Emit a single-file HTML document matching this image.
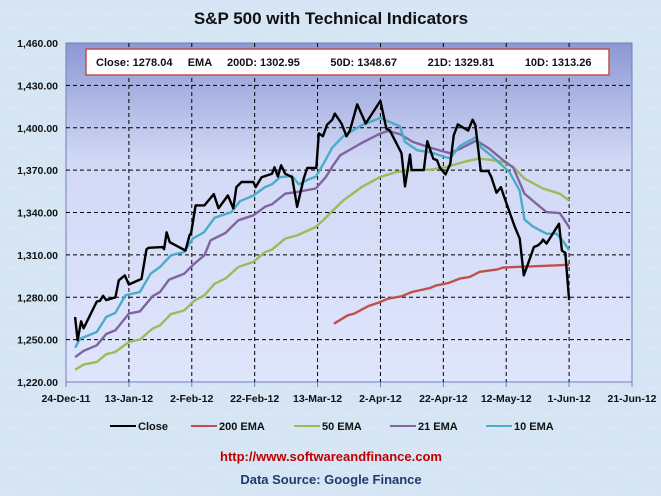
<!DOCTYPE html>
<html><head><meta charset="utf-8"><style>
body{margin:0;width:661px;height:491px;overflow:hidden;background:#d5e5f4;font-family:"Liberation Sans",sans-serif;}
svg text{font-family:"Liberation Sans",sans-serif;font-weight:bold;}
</style></head><body>
<svg id="chart" width="661" height="491" xmlns="http://www.w3.org/2000/svg">
<defs>
<linearGradient id="bg" x1="0" y1="0" x2="0" y2="1">
<stop offset="0" stop-color="#8c98d4"/><stop offset="0.35" stop-color="#d2d9f6"/><stop offset="1" stop-color="#dfe5fb"/>
</linearGradient>
<pattern id="marble" width="40" height="40" patternUnits="userSpaceOnUse">
<rect width="40" height="40" fill="#d5e5f4"/><path d="M0 10 Q10 5 20 12 T40 8 M5 30 Q15 25 25 32 T40 28" stroke="#dbe9f6" stroke-width="1.5" fill="none"/>
</pattern>
</defs>
<rect width="661" height="491" fill="url(#marble)"/>
<text x="331" y="24" text-anchor="middle" font-size="17" fill="#111">S&amp;P 500 with Technical Indicators</text>
<rect x="66" y="43" width="566" height="339" fill="url(#bg)" stroke="#6f7fb8" stroke-width="1"/>
<g id="grid"></g><g id="axes"></g><g id="series"></g>
<rect x="86" y="49" width="523" height="26" fill="#fff" stroke="#c0504d" stroke-width="1.5"/>
<text x="96" y="66" font-size="11" fill="#111" xml:space="preserve">Close: 1278.04     EMA     200D: 1302.95          50D: 1348.67          21D: 1329.81          10D: 1313.26</text>
<g id="legend"></g>
<text x="331" y="461" text-anchor="middle" font-size="13" fill="#c00000">http://www.softwareandfinance.com</text>
<text x="331" y="484" text-anchor="middle" font-size="13" fill="#1f3a6e">Data Source: Google Finance</text>
</svg>
<script>
const yTicks=[1220,1250,1280,1310,1340,1370,1400,1430,1460];
const yTickLabels=["1,220.00","1,250.00","1,280.00","1,310.00","1,340.00","1,370.00","1,400.00","1,430.00","1,460.00"];
const xTickDays=[0,20,40,60,80,100,120,140,160,180];
const xTickLabels=["24-Dec-11","13-Jan-12","2-Feb-12","22-Feb-12","13-Mar-12","2-Apr-12","22-Apr-12","12-May-12","1-Jun-12","21-Jun-12"];
const closeDays=[2.9,3.7,4.8,5.6,9.8,10.8,11.8,12.8,15.7,16.8,18.7,20,24,25.6,26.3,30.7,31.2,32,33,38,39.3,39.8,41.2,44,47,48.5,51.5,53.2,54.2,55.8,59.6,60.3,62.2,65.5,66.3,67.4,68.4,69.7,71.9,73.5,75.6,76.7,79.6,80.4,81.7,83,84.7,85.5,87.6,89.2,90.3,92.6,95.3,100,101.9,103,106.7,107.8,109.4,109.9,111.7,113.8,114.9,116.8,118,118.9,120.7,122.2,123.3,124.6,126,127.9,129.3,130.2,131.9,134.3,135.3,136.9,138.3,139.2,142.7,144.3,145.6,147.3,148.8,150.1,151.2,151.7,152.8,156.8,157.7,158.8,160];
const closeVals=[1266,1249.5,1263,1258,1277,1277.5,1281,1278,1280,1292,1295.5,1289,1293,1314,1315,1315.5,1314,1326,1319,1313,1324,1325.5,1345,1345,1353,1343,1352,1343,1358,1361.6,1361.6,1358,1365,1367.5,1372,1365.5,1373.4,1367.5,1365,1344,1364,1371.5,1371.5,1396,1394,1402,1405.7,1410,1403,1394,1398,1416.6,1403,1419,1399.3,1398,1382,1358.5,1381,1370,1370,1370,1390.5,1378,1377,1371.7,1367,1374.5,1394.6,1402.4,1400.5,1398,1405.7,1401.7,1369.4,1369.4,1365,1354,1358,1352,1330,1321.5,1295.5,1306,1315.6,1316.7,1319,1320.8,1318,1332,1313,1311.4,1278];
const ema10Days=[2.9,4.5,9.8,12.8,15.7,18.9,23.5,26.9,29.9,33.4,37.6,40.3,43.9,47.3,52.6,55.3,59.6,63.3,65.5,68.1,71.9,74,76.7,79.4,82,84.7,88.2,94,100,106.2,107.8,111.7,115.7,121,122.2,125.2,130.5,132,135.7,141,144.3,145.8,148.5,152.8,156,158,160];
const ema10Vals=[1244.3,1250.7,1255.4,1266,1269,1281.4,1283.7,1296.7,1301.4,1309.7,1312,1321.5,1326,1336.3,1340.3,1348,1352,1358,1360,1365,1366,1360,1363,1365.3,1375,1386,1394,1401.7,1407,1401,1390,1384,1382.7,1379,1378.5,1387,1393.4,1386,1379.5,1368.6,1355.5,1335,1330,1325,1325,1320,1313.3];
const ema21Days=[2.9,5.6,9.8,12.8,15.7,20,23.5,27.5,29.9,32.8,37.6,40.9,44,46,50.7,54.8,59.6,63.3,65.5,69.7,73.5,79.4,82.6,84.7,87.2,94,100,102.4,106.2,110.3,115.7,122,125.2,130.5,134.7,139,142.2,145.8,149.7,152.8,157,160];
const ema21Vals=[1237.6,1242,1246,1254,1256.6,1268.4,1270,1280.7,1283.7,1292.5,1296.7,1304,1309.7,1320.3,1325.5,1334.5,1338,1344,1345.8,1353.3,1354.5,1357,1365,1372.5,1380.5,1389.2,1396,1397.7,1395.5,1390,1386,1382,1385,1391,1385,1377,1372,1353.3,1346,1340.3,1339.6,1329.8];
const ema50Days=[2.9,5.6,9.8,12.8,15.7,20,23.5,27.5,29.9,33.3,37.6,40.9,44,47.3,50.7,54.8,59.6,63.3,65.5,69.7,73.5,79.4,82,84.7,88.2,94,100,105.1,110.3,115.7,121,126.3,131,134.7,139,142.2,145.8,151.7,157,160];
const ema50Vals=[1228.7,1232.3,1234.2,1239.6,1241.3,1248.3,1250,1257.8,1260.1,1268,1270.7,1277.8,1281.4,1289.6,1293.2,1301.4,1305,1312,1313.7,1321.5,1323.8,1329.7,1335,1341,1348.6,1358,1365.2,1368.7,1370,1370.3,1372.2,1375.7,1378.1,1377.4,1375.7,1372.2,1364,1357,1353.3,1348.6];
const ema200Days=[85.2,89.6,91.7,96,99.2,102.4,106.7,110,115.7,117.8,121.5,125.2,128.4,131.6,136.9,139,143.3,149.7,160];
const ema200Vals=[1261.3,1267.2,1268.4,1273.6,1276,1279,1280.7,1283.7,1286.5,1288.4,1290,1293.2,1294.4,1298,1299.6,1301,1301.5,1302,1303];

const X0=66,X1=632,Y0=382,Y1=43,D0=0,D1=180,V0=1220,V1=1460;
const xs=d=>X0+(d-D0)/(D1-D0)*(X1-X0);
const ys=v=>Y0-(v-V0)/(V1-V0)*(Y0-Y1);
const NS="http://www.w3.org/2000/svg";
function mk(tag,attrs,parent){const e=document.createElementNS(NS,tag);for(const k in attrs)e.setAttribute(k,attrs[k]);parent.appendChild(e);return e;}
const grid=document.getElementById('grid'),axes=document.getElementById('axes'),series=document.getElementById('series'),legend=document.getElementById('legend');
yTicks.forEach((v,i)=>{
  if(v>V0&&v<V1){const l=mk('line',{x1:X0,x2:X1,y1:ys(v),y2:ys(v),stroke:'#000','stroke-width':1,'stroke-dasharray':'4,3'},grid);
  
  }
  const t=mk('text',{x:58,y:ys(v)+4,'text-anchor':'end','font-size':10.5,fill:'#111'},axes);t.textContent=yTickLabels[i];
  
  
});
xTickDays.forEach((d,i)=>{
  if(d>D0&&d<D1){const l=mk('line',{x1:xs(d),x2:xs(d),y1:Y1,y2:Y0,stroke:'#000','stroke-width':1,'stroke-dasharray':'4,3'},grid);
  
  }
  const tk=mk('line',{x1:xs(d),x2:xs(d),y1:Y0,y2:Y0+5,stroke:'#6f7fb8'},axes);
  
  
  const t=mk('text',{x:xs(d),y:402,'text-anchor':'middle','font-size':10.5,fill:'#111'},axes);t.textContent=xTickLabels[i];
  
  
});
function line(days,vals,color,w,name){
  const p=days.map((d,i)=>xs(d).toFixed(1)+','+ys(vals[i]).toFixed(1)).join(' ');
  const e=mk('polyline',{points:p,fill:'none',stroke:color,'stroke-width':w,'stroke-linejoin':'round'},series);
  
  
}
line(ema200Days,ema200Vals,'#c0504d',2.4,'ema200-line');
line(ema50Days,ema50Vals,'#9bbb59',2.4,'ema50-line');
line(ema21Days,ema21Vals,'#8064a2',2.4,'ema21-line');
line(ema10Days,ema10Vals,'#4bacc6',2.4,'ema10-line');
line(closeDays,closeVals,'#000',2.4,'close-line');
const leg=[['Close','#000',110],['200 EMA','#c0504d',191],['50 EMA','#9bbb59',294],['21 EMA','#8064a2',390],['10 EMA','#4bacc6',486]];
leg.forEach(([n,c,x])=>{
  const g=mk('g',{},legend);
  
  
  mk('line',{x1:x,x2:x+26,y1:426,y2:426,stroke:c,'stroke-width':2},g);
  const t=mk('text',{x:x+28,y:430,'font-size':11,fill:'#111'},g);t.textContent=n;
});
</script>
</body></html>
